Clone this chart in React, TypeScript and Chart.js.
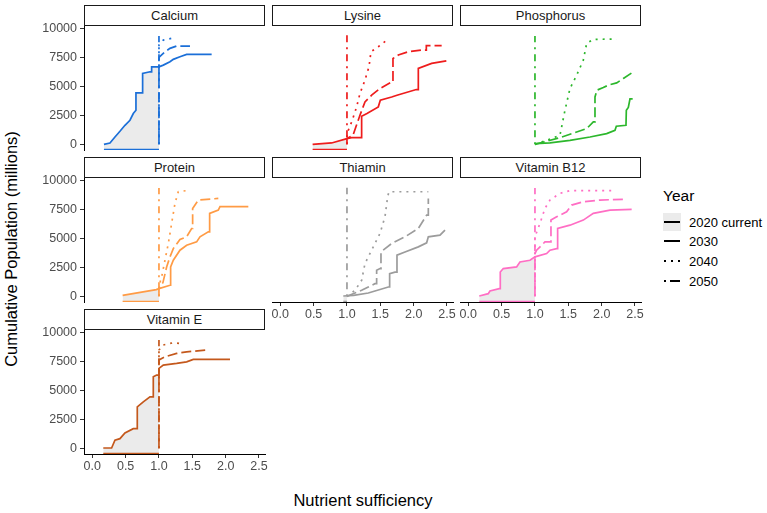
import React, { useEffect, useRef } from "react";
import { Chart, registerables } from "chart.js";
Chart.register(...registerables);

// ---------------- data ----------------
const nutrientNames = ["Calcium", "Lysine", "Phosphorus", "Protein", "Thiamin", "Vitamin B12", "Vitamin E"];
const yearLabels = ["2020 current", "2030", "2040", "2050"];
const xTickValues = [0, 0.5, 1, 1.5, 2, 2.5];
const yTickValues = [0, 2500, 5000, 7500, 10000];

const calcium2020 = [[0.175,0],[0.265,115],[0.34,640],[0.415,1130],[0.49,1650],[0.565,2090],[0.615,2670],[0.655,2960],[0.655,4460],[0.755,4460],[0.755,6150],[0.865,6290],[0.89,6290],[0.89,6720],[1.0,6720],[1.065,6870],[1.165,7160],[1.215,7370],[1.315,7590],[1.415,7800],[1.79,7800]];
const calcium2030 = [[1,0],[1,7540],[1.09,8030],[1.165,8320],[1.265,8520],[1.465,8520]];
const calcium2040 = [[1,0],[1,8610],[1.065,9040],[1.19,9190]];
const calcium2050 = [[1,0],[1,9400]];

const lysine2020 = [[0.485,0],[0.77,120],[1.0,490],[1.07,580],[1.22,580],[1.22,2430],[1.3,2670],[1.47,3250],[1.5,3830],[1.67,4100],[1.75,4260],[2.04,4750],[2.07,4750],[2.07,6580],[2.27,7020],[2.49,7240]];
const lysine2030 = [[1,0],[1,500],[1.09,780],[1.195,2520],[1.27,3680],[1.37,4260],[1.495,4840],[1.67,5420],[1.69,5420],[1.69,7450],[1.77,7740],[1.92,8030],[2.12,8170],[2.19,8170],[2.19,8550],[2.42,8550]];
const lysine2040 = [[1,0],[1,930],[1.08,2090],[1.145,3250],[1.195,4410],[1.27,5570],[1.33,6720],[1.36,8030],[1.47,8460],[1.63,9190]];
const lysine2050 = [[1,0],[1,9450]];

const phosphorus2020 = [[1.0,60],[1.225,120],[1.525,350],[1.825,640],[2.075,930],[2.2,1220],[2.22,1570],[2.365,1650],[2.37,2960],[2.4,3200],[2.425,3940],[2.465,3940]];
const phosphorus2030 = [[1,0],[1.375,580],[1.625,1070],[1.775,1360],[1.875,1940],[1.9,1940],[1.9,4110],[1.93,4700],[2.025,4930],[2.1,5130],[2.225,5330],[2.325,5710],[2.475,6290]];
const phosphorus2040 = [[1,0],[1.175,350],[1.375,780],[1.45,2960],[1.525,4840],[1.625,5990],[1.725,7300],[1.775,8750],[1.875,9100],[2.225,9130]];
const phosphorus2050 = [[1,0],[1,9400]];

const protein2020 = [[0.455,90],[0.96,580],[1.0,670],[1.165,960],[1.175,960],[1.175,2550],[1.215,3130],[1.315,4000],[1.415,4430],[1.565,4720],[1.615,5160],[1.74,5590],[1.76,5590],[1.76,7190],[1.89,7480],[1.915,7770],[2.34,7770]];
const protein2030 = [[1,0],[1,700],[1.06,1200],[1.115,2550],[1.165,3420],[1.215,4140],[1.315,4930],[1.415,5160],[1.49,5880],[1.505,5880],[1.505,7620],[1.59,8350],[1.89,8490]];
const protein2040 = [[1,0],[1,900],[1.04,1680],[1.09,3130],[1.14,4580],[1.19,6320],[1.24,8060],[1.29,9070],[1.405,9160]];
const protein2050 = [[1,0],[1,9400]];

const thiamin2020 = [[0.945,30],[1.1,80],[1.32,290],[1.42,460],[1.62,810],[1.64,810],[1.64,1970],[1.72,2100],[1.75,2100],[1.75,3570],[1.87,3850],[2.07,4290],[2.195,4640],[2.22,5160],[2.395,5300],[2.47,5740]];
const thiamin2030 = [[1,0],[1.22,520],[1.32,810],[1.42,1100],[1.445,1100],[1.445,2260],[1.495,2410],[1.51,2410],[1.51,3850],[1.67,4580],[1.87,5160],[2.07,5880],[2.195,7040],[2.22,7040],[2.22,8490]];
const thiamin2040 = [[1,0],[1.12,520],[1.22,1390],[1.27,2840],[1.37,4000],[1.495,5450],[1.57,6900],[1.61,8640],[1.63,9070],[2.22,9070]];
const thiamin2050 = [[1,0],[1,9420]];

const vitaminB122020 = [[0.165,30],[0.3,230],[0.325,460],[0.465,670],[0.48,670],[0.48,2110],[0.525,2410],[0.725,2550],[0.775,2980],[0.925,3130],[1.0,3420],[1.175,3710],[1.225,4000],[1.325,4140],[1.34,4140],[1.34,5880],[1.525,6170],[1.725,6610],[1.875,7190],[2.125,7480],[2.45,7540]];
const vitaminB122030 = [[1,0],[1,3700],[1.025,4000],[1.15,4720],[1.24,4720],[1.24,6610],[1.325,6900],[1.475,7330],[1.55,7910],[1.725,8200],[1.975,8350],[2.325,8410]];
const vitaminB122040 = [[1,0],[1,5160],[1.075,6320],[1.15,7620],[1.225,8350],[1.375,8930],[1.525,9160],[2.2,9160]];
const vitaminB122050 = [[1,0],[1,9400]];

const vitaminE2020 = [[0.165,30],[0.29,30],[0.34,700],[0.415,840],[0.49,1330],[0.615,1710],[0.675,1710],[0.675,3590],[0.765,4030],[0.865,4460],[0.915,4460],[0.915,6200],[0.965,6350],[0.99,6350],[1.0,6930],[1.065,7220],[1.265,7360],[1.415,7500],[1.515,7710],[2.065,7710]];
const vitaminE2030 = [[1,0],[1,7650],[1.09,7940],[1.265,8230],[1.415,8370],[1.715,8520]];
const vitaminE2040 = [[1,0],[1,8520],[1.065,8960],[1.215,9160],[1.315,9100]];
const vitaminE2050 = [[1,0],[1,9390]];

const nutrientSeries = [
  [calcium2020, calcium2030, calcium2040, calcium2050],
  [lysine2020, lysine2030, lysine2040, lysine2050],
  [phosphorus2020, phosphorus2030, phosphorus2040, phosphorus2050],
  [protein2020, protein2030, protein2040, protein2050],
  [thiamin2020, thiamin2030, thiamin2040, thiamin2050],
  [vitaminB122020, vitaminB122030, vitaminB122040, vitaminB122050],
  [vitaminE2020, vitaminE2030, vitaminE2040, vitaminE2050],
];

// ---------------- styles ----------------
const nutrientColors = ["#1B6FD8", "#EE1C1C", "#2CB72C", "#FF9B45", "#9C9C9C", "#FF6EC4", "#C4581C"];
const yearDashes: number[][] = [[], [10, 4], [2, 5], [2, 5, 7, 5]];
const FONT = '"Liberation Sans", Arial, Helvetica, sans-serif';
const X_MIN = -0.124, X_MAX = 2.59;
const Y_MIN = -490, Y_MAX = 10260;
const RIBBON_BASE = -430;
const COL_LEFT = [84, 272, 460];
const ROW_TOP = [26, 178, 330];
const PANEL_W = 181;
const PANEL_H = 124;
const STRIP_H = 21;

type PanelProps = { idx: number };

function Panel({ idx }: PanelProps) {
  const ref = useRef<HTMLCanvasElement | null>(null);
  const col = idx % 3;
  const row = Math.floor(idx / 3);
  const showY = col === 0;
  const showX = idx >= 4;
  const padL = showY ? 50 : 10;
  const padB = showX ? 22 : 4;
  const cw = padL + PANEL_W + 10;
  const ch = 8 + PANEL_H + padB;
  const left = COL_LEFT[col] - padL;
  const top = ROW_TOP[row] - 8;

  useEffect(() => {
    const color = nutrientColors[idx];
    const series = nutrientSeries[idx];
    const toPts = (a: number[][]) => a.map(([x, y]) => ({ x, y }));
    const s2020 = toPts(series[0]);
    const rib: { x: number; y: number }[] = [];
    for (let i = 0; i < s2020.length; i++) {
      const p = s2020[i];
      if (p.x <= 1) rib.push(p);
      else {
        const q = s2020[i - 1];
        if (q && q.x < 1) rib.push({ x: 1, y: q.y + ((p.y - q.y) * (1 - q.x)) / (p.x - q.x) });
        break;
      }
    }
    const datasets: any[] = [];
    series.forEach((s, k) => {
      datasets.push({
        data: toPts(s),
        borderColor: color,
        borderWidth: 1.7,
        borderDash: yearDashes[k],
        pointRadius: 0,
        fill: false,
        tension: 0,
      });
    });
    if (rib.length >= 2) {
      datasets.push({
        data: [{ x: rib[0].x, y: RIBBON_BASE }, { x: 1, y: RIBBON_BASE }],
        borderColor: color,
        borderWidth: 1.2,
        pointRadius: 0,
        fill: false,
      });
      datasets.push({
        data: rib,
        borderWidth: 0,
        borderColor: "rgba(0,0,0,0)",
        backgroundColor: "#EBEBEB",
        pointRadius: 0,
        fill: { value: RIBBON_BASE },
      });
    }
    const tickFont = { family: FONT, size: 12.5 };
    const chart = new Chart(ref.current as HTMLCanvasElement, {
      type: "line",
      data: { datasets },
      options: {
        responsive: false,
        maintainAspectRatio: false,
        animation: false,
        layout: { padding: { left: showY ? 0 : 10, right: 10, top: 8, bottom: showX ? 0 : 4 } },
        plugins: { legend: { display: false }, tooltip: { enabled: false } },
        scales: {
          x: {
            type: "linear",
            min: X_MIN,
            max: X_MAX,
            display: showX,
            afterBuildTicks: (s: any) => { s.ticks = xTickValues.map((v) => ({ value: v })); },
            afterFit: (s: any) => {
              if (showX) s.height = 22;
              s.paddingLeft = 0;
              s.paddingRight = 0;
            },
            ticks: {
              callback: (v: any) => Number(v).toFixed(1),
              color: "#4D4D4D",
              font: tickFont,
              padding: 1,
              maxRotation: 0,
              autoSkip: false,
            },
            grid: { display: true, drawOnChartArea: false, drawTicks: true, tickLength: 4, color: "#333333", lineWidth: 1 },
            border: { display: true, color: "#000000", width: 1 },
          },
          y: {
            type: "linear",
            min: Y_MIN,
            max: Y_MAX,
            display: showY,
            afterBuildTicks: (s: any) => { s.ticks = yTickValues.map((v) => ({ value: v })); },
            afterFit: (s: any) => {
              if (showY) s.width = 50;
              s.paddingTop = 0;
              s.paddingBottom = 0;
            },
            ticks: {
              callback: (v: any) => String(v),
              color: "#4D4D4D",
              font: tickFont,
              padding: 3,
              autoSkip: false,
            },
            grid: { display: true, drawOnChartArea: false, drawTicks: true, tickLength: 4, color: "#333333", lineWidth: 1 },
            border: { display: true, color: "#000000", width: 1 },
          },
        },
      } as any,
    });
    return () => chart.destroy();
  }, [idx]);

  return (
    <>
      <div
        style={{
          position: "absolute",
          left: COL_LEFT[col],
          top: ROW_TOP[row] - STRIP_H,
          width: PANEL_W,
          height: STRIP_H,
          boxSizing: "border-box",
          border: "1px solid #1a1a1a",
          background: "#ffffff",
          fontFamily: FONT,
          fontSize: 13,
          color: "#1a1a1a",
          textAlign: "center",
          lineHeight: `${STRIP_H - 2}px`,
        }}
      >
        {nutrientNames[idx]}
      </div>
      <canvas
        ref={ref}
        width={cw}
        height={ch}
        style={{ position: "absolute", left, top, width: cw, height: ch }}
      />
    </>
  );
}

function LegendKey({ k }: { k: number }) {
  const base: React.CSSProperties = { position: "absolute", background: "#000", height: 2, top: 8 };
  let parts: React.ReactNode[] = [];
  if (k === 0 || k === 1) parts = [<div key="a" style={{ ...base, left: 1, width: 16 }} />];
  else if (k === 2) parts = [1, 8, 15].map((x) => <div key={x} style={{ ...base, left: x, width: 2 }} />);
  else parts = [<div key="a" style={{ ...base, left: 1, width: 2 }} />, <div key="b" style={{ ...base, left: 7, width: 10 }} />];
  return (
    <div style={{ position: "absolute", left: 0, top: 0, width: 18, height: 18, background: k === 0 ? "#EBEBEB" : "transparent" }}>
      {parts}
    </div>
  );
}

export default function App() {
  const legendRows = [222, 241, 261, 281];
  return (
    <div style={{ position: "absolute", left: 0, top: 0, width: 767, height: 513, background: "#fff", overflow: "hidden" }}>
      {nutrientNames.map((_, i) => (
        <Panel key={i} idx={i} />
      ))}
      <div
        style={{
          position: "absolute",
          left: 11,
          top: 249,
          transform: "translate(-50%, -50%) rotate(-90deg)",
          whiteSpace: "nowrap",
          fontFamily: FONT,
          fontSize: 16.5,
          color: "#000",
        }}
      >
        Cumulative Population (millions)
      </div>
      <div
        style={{
          position: "absolute",
          left: 363,
          top: 500,
          transform: "translate(-50%, -50%)",
          whiteSpace: "nowrap",
          fontFamily: FONT,
          fontSize: 16.5,
          color: "#000",
        }}
      >
        Nutrient sufficiency
      </div>
      <div style={{ position: "absolute", left: 663, top: 196, transform: "translateY(-50%)", fontFamily: FONT, fontSize: 15.5, color: "#000" }}>
        Year
      </div>
      {yearLabels.map((lab, k) => (
        <React.Fragment key={lab}>
          <div style={{ position: "absolute", left: 663, top: legendRows[k] - 9, width: 18, height: 18 }}>
            <LegendKey k={k} />
          </div>
          <div
            style={{
              position: "absolute",
              left: 689,
              top: legendRows[k],
              transform: "translateY(-50%)",
              fontFamily: FONT,
              fontSize: 13,
              color: "#000",
              whiteSpace: "nowrap",
            }}
          >
            {lab}
          </div>
        </React.Fragment>
      ))}
    </div>
  );
}
